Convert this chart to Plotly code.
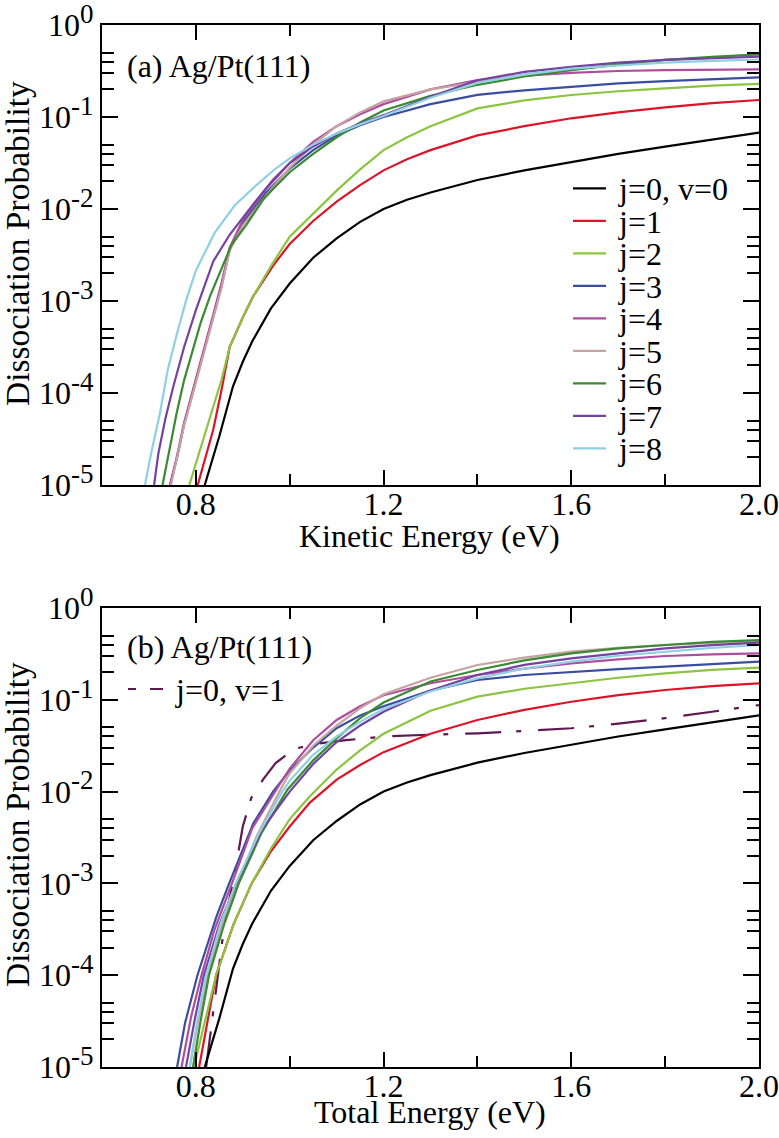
import numpy as np
import plotly.graph_objects as go

W, H = 779, 1138
FONT = "Liberation Serif"

# ---------------- data (energy in eV, values = log10 P) -------------
# panel (a): kinetic energy
ke_j0v0_E = [0.819, 0.85, 0.879, 0.90, 0.92, 0.96, 1.0, 1.05, 1.1, 1.15, 1.2, 1.25, 1.3, 1.4, 1.5, 1.6, 1.7, 1.8, 1.9, 2.0]
ke_j0v0_L = [-5.0, -4.47, -3.93, -3.66, -3.44, -3.08, -2.81, -2.53, -2.32, -2.14, -2.00, -1.90, -1.82, -1.685, -1.58, -1.486, -1.40, -1.322, -1.245, -1.17]

ke_j1_E = [0.804, 0.82, 0.837, 0.855, 0.872, 0.90, 0.922, 0.964, 1.0, 1.05, 1.1, 1.15, 1.2, 1.25, 1.3, 1.4, 1.5, 1.6, 1.7, 1.8, 1.9, 2.0]
ke_j1_L = [-5.0, -4.7, -4.40, -3.96, -3.50, -3.18, -2.95, -2.62, -2.38, -2.13, -1.92, -1.74, -1.58, -1.46, -1.36, -1.20, -1.10, -1.014, -0.95, -0.895, -0.85, -0.815]

ke_j2_E = [0.786, 0.81, 0.83, 0.855, 0.872, 0.90, 0.922, 0.96, 1.0, 1.05, 1.1, 1.15, 1.2, 1.25, 1.3, 1.4, 1.5, 1.6, 1.7, 1.8, 1.9, 2.0]
ke_j2_L = [-5.0, -4.6, -4.26, -3.85, -3.50, -3.18, -2.95, -2.62, -2.30, -2.05, -1.80, -1.57, -1.36, -1.22, -1.10, -0.906, -0.82, -0.761, -0.72, -0.688, -0.66, -0.641]

ke_j3_E = [0.745, 0.76, 0.775, 0.795, 0.815, 0.837, 0.855, 0.872, 0.90, 0.95, 1.0, 1.05, 1.1, 1.15, 1.2, 1.3, 1.4, 1.5, 1.6, 1.7, 1.8, 1.9, 2.0]
ke_j3_L = [-5.0, -4.70, -4.34, -3.97, -3.58, -3.18, -2.83, -2.44, -2.15, -1.82, -1.56, -1.36, -1.20, -1.09, -1.00, -0.86, -0.76, -0.71, -0.67, -0.635, -0.609, -0.585, -0.569]

ke_j4_E = [0.745, 0.76, 0.775, 0.795, 0.815, 0.837, 0.855, 0.872, 0.90, 0.95, 1.0, 1.05, 1.1, 1.15, 1.2, 1.3, 1.4, 1.5, 1.6, 1.7, 1.8, 1.9, 2.0]
ke_j4_L = [-5.0, -4.68, -4.32, -3.95, -3.55, -3.15, -2.80, -2.42, -2.12, -1.78, -1.50, -1.27, -1.10, -0.97, -0.86, -0.70, -0.60, -0.55, -0.52, -0.50, -0.49, -0.485, -0.482]

ke_j5_E = [0.747, 0.759, 0.775, 0.794, 0.815, 0.837, 0.855, 0.872, 0.90, 0.95, 1.0, 1.05, 1.1, 1.15, 1.2, 1.3, 1.4, 1.5, 1.6, 1.7, 1.8, 1.9, 2.0]
ke_j5_L = [-5.0, -4.73, -4.35, -4.0, -3.60, -3.21, -2.85, -2.45, -2.18, -1.85, -1.55, -1.30, -1.10, -0.95, -0.83, -0.70, -0.616, -0.54, -0.482, -0.43, -0.38, -0.355, -0.335]

ke_j6_E = [0.729, 0.744, 0.759, 0.775, 0.794, 0.81, 0.83, 0.855, 0.876, 0.908, 0.943, 0.965, 1.0, 1.05, 1.1, 1.15, 1.2, 1.3, 1.4, 1.5, 1.6, 1.7, 1.8, 1.9, 2.0]
ke_j6_L = [-5.0, -4.6, -4.22, -3.86, -3.53, -3.24, -2.95, -2.65, -2.39, -2.17, -1.90, -1.78, -1.60, -1.40, -1.22, -1.06, -0.93, -0.77, -0.65, -0.56, -0.49, -0.43, -0.38, -0.345, -0.32]

ke_j7_E = [0.711, 0.72, 0.735, 0.752, 0.775, 0.80, 0.837, 0.872, 0.922, 0.965, 1.0, 1.05, 1.1, 1.15, 1.2, 1.3, 1.4, 1.5, 1.6, 1.7, 1.8, 1.9, 2.0]
ke_j7_L = [-5.0, -4.66, -4.28, -3.93, -3.50, -3.10, -2.57, -2.28, -1.95, -1.68, -1.50, -1.32, -1.18, -1.07, -0.98, -0.78, -0.60, -0.51, -0.455, -0.41, -0.38, -0.36, -0.345]

ke_j8_E = [0.6915, 0.705, 0.7234, 0.74, 0.76, 0.78, 0.80, 0.84, 0.883, 0.929, 0.97, 1.0, 1.05, 1.1, 1.15, 1.2, 1.3, 1.4, 1.5, 1.6, 1.7, 1.8, 1.9, 2.0]
ke_j8_L = [-5.0, -4.65, -4.22, -3.75, -3.35, -2.98, -2.67, -2.26, -1.96, -1.74, -1.56, -1.45, -1.30, -1.18, -1.08, -0.99, -0.79, -0.63, -0.54, -0.475, -0.44, -0.41, -0.39, -0.375]

# panel (b): total energy
te_j0v0_E = ke_j0v0_E
te_j0v0_L = ke_j0v0_L

te_j1_E = [0.807, 0.825, 0.843, 0.88, 0.919, 0.96, 1.0, 1.043, 1.1, 1.15, 1.2, 1.3, 1.4, 1.5, 1.6, 1.7, 1.8, 1.9, 2.0]
te_j1_L = [-5.0, -4.48, -4.0, -3.45, -3.0, -2.65, -2.38, -2.12, -1.87, -1.71, -1.57, -1.37, -1.22, -1.11, -1.021, -0.95, -0.893, -0.85, -0.82]

te_j2_E = [0.796, 0.82, 0.843, 0.88, 0.919, 0.96, 1.0, 1.043, 1.1, 1.15, 1.2, 1.3, 1.4, 1.5, 1.6, 1.7, 1.8, 1.9, 2.0]
te_j2_L = [-5.0, -4.48, -4.0, -3.45, -3.0, -2.62, -2.30, -2.05, -1.76, -1.55, -1.37, -1.12, -0.966, -0.88, -0.82, -0.76, -0.712, -0.675, -0.65]

te_j3_E = [0.760, 0.777, 0.8034, 0.825, 0.844, 0.871, 0.90, 0.922, 0.9645, 1.0, 1.05, 1.1, 1.15, 1.2, 1.3, 1.4, 1.5, 1.6, 1.7, 1.8, 1.9, 2.0]
te_j3_L = [-5.0, -4.52, -4.0, -3.65, -3.36, -3.0, -2.62, -2.35, -2.0, -1.77, -1.52, -1.31, -1.17, -1.07, -0.90, -0.784, -0.73, -0.694, -0.665, -0.639, -0.61, -0.585]

te_j4_E = [0.7695, 0.79, 0.812, 0.84, 0.877, 0.92, 0.975, 1.0, 1.05, 1.1, 1.15, 1.2, 1.3, 1.4, 1.5, 1.6, 1.7, 1.8, 1.9, 2.0]
te_j4_L = [-5.0, -4.45, -4.0, -3.50, -3.0, -2.40, -1.95, -1.75, -1.44, -1.22, -1.07, -0.95, -0.82, -0.73, -0.66, -0.603, -0.56, -0.523, -0.505, -0.494]

te_j5_E = [0.787, 0.805, 0.826, 0.855, 0.889, 0.93, 0.98, 1.0, 1.05, 1.1, 1.15, 1.2, 1.3, 1.4, 1.5, 1.6, 1.7, 1.8, 1.9, 2.0]
te_j5_L = [-5.0, -4.5, -4.0, -3.45, -3.0, -2.48, -1.98, -1.80, -1.50, -1.28, -1.09, -0.94, -0.76, -0.621, -0.54, -0.476, -0.435, -0.403, -0.38, -0.367]

te_j6_E = [0.794, 0.81, 0.828, 0.86, 0.8915, 0.94, 0.995, 1.05, 1.1, 1.15, 1.2, 1.3, 1.4, 1.5, 1.6, 1.7, 1.8, 1.9, 2.0]
te_j6_L = [-5.0, -4.5, -4.0, -3.45, -3.0, -2.45, -1.98, -1.66, -1.42, -1.20, -1.03, -0.80, -0.675, -0.57, -0.494, -0.44, -0.403, -0.37, -0.349]

te_j7_E = [0.779, 0.797, 0.817, 0.85, 0.886, 0.94, 1.0, 1.05, 1.1, 1.15, 1.2, 1.3, 1.4, 1.5, 1.6, 1.7, 1.8, 1.9, 2.0]
te_j7_L = [-5.0, -4.5, -4.0, -3.45, -3.0, -2.42, -2.0, -1.70, -1.46, -1.28, -1.13, -0.90, -0.73, -0.62, -0.548, -0.49, -0.439, -0.405, -0.378]

te_j8_E = [0.787, 0.803, 0.822, 0.852, 0.885, 0.935, 0.984, 1.0, 1.05, 1.1, 1.15, 1.2, 1.3, 1.4, 1.5, 1.6, 1.7, 1.8, 1.9, 2.0]
te_j8_L = [-5.0, -4.5, -4.0, -3.45, -3.0, -2.45, -2.0, -1.88, -1.60, -1.40, -1.24, -1.10, -0.91, -0.766, -0.66, -0.585, -0.52, -0.476, -0.435, -0.403]

te_j0v1_E = [0.822, 0.837, 0.85, 0.862, 0.883, 0.90, 0.918, 0.943, 0.97, 0.993, 1.014, 1.056, 1.12, 1.2, 1.3, 1.4, 1.5, 1.6, 1.7, 1.8, 1.9, 2.0]
te_j0v1_L = [-5.0, -4.41, -3.90, -3.40, -2.89, -2.38, -2.07, -1.87, -1.69, -1.60, -1.53, -1.48, -1.44, -1.40, -1.38, -1.365, -1.34, -1.31, -1.26, -1.20, -1.13, -1.057]

legend_labels = ["j=0, v=0", "j=1", "j=2", "j=3", "j=4", "j=5", "j=6", "j=7", "j=8"]
colors = ["#000000", "#dc1428", "#8cc43f", "#3b4da0", "#b04c9f", "#c6a2a2", "#3a8a32", "#7442a0", "#8fd0e2"]
v1_label = "j=0, v=1"
v1_color = "#5e1a50"

x_major = [0.8, 1.2, 1.6, 2.0]
x_major_text = ["0.8", "1.2", "1.6", "2.0"]
x_minor = [1.0, 1.4, 1.8]
y_major = [1e-5, 1e-4, 1e-3, 1e-2, 1e-1, 1]
y_major_exp = ["-5", "-4", "-3", "-2", "-1", "0"]
y_minor = [m * 10.0 ** d for d in range(-5, 0) for m in (2, 3, 4, 5)]

panel_labels = ["(a) Ag/Pt(111)", "(b) Ag/Pt(111)"]
x_titles = ["Kinetic Energy (eV)", "Total Energy (eV)"]
y_title = "Dissociation Probability"

top_sets = [(ke_j0v0_E, ke_j0v0_L), (ke_j1_E, ke_j1_L), (ke_j2_E, ke_j2_L), (ke_j3_E, ke_j3_L),
            (ke_j4_E, ke_j4_L), (ke_j5_E, ke_j5_L), (ke_j6_E, ke_j6_L), (ke_j7_E, ke_j7_L), (ke_j8_E, ke_j8_L)]
bot_sets = [(te_j0v0_E, te_j0v0_L), (te_j1_E, te_j1_L), (te_j2_E, te_j2_L), (te_j3_E, te_j3_L),
            (te_j4_E, te_j4_L), (te_j5_E, te_j5_L), (te_j6_E, te_j6_L), (te_j7_E, te_j7_L), (te_j8_E, te_j8_L)]

# ---------------- figure -------------
def px(p):
    return p / W


def py(p):
    return 1 - p / H


X0, X1 = 102, 759
TOP = (25, 485)
BOT = (608, 1067)

fig = go.Figure()
LW = 2.2
for (E, L), c, n in zip(top_sets, colors, legend_labels):
    fig.add_trace(go.Scatter(x=E, y=np.power(10.0, L), mode="lines", name=n,
                             line=dict(color=c, width=LW), xaxis="x", yaxis="y", showlegend=False))
fig.add_trace(go.Scatter(x=te_j0v1_E, y=np.power(10.0, te_j0v1_L), mode="lines", name=v1_label,
                         line=dict(color=v1_color, width=LW, dash="36px,15px,5px,17px"),
                         xaxis="x2", yaxis="y2", showlegend=False))
for (E, L), c, n in zip(bot_sets, colors, legend_labels):
    fig.add_trace(go.Scatter(x=E, y=np.power(10.0, L), mode="lines", name=n,
                             line=dict(color=c, width=LW), xaxis="x2", yaxis="y2", showlegend=False))

tickfont = dict(family=FONT, size=32, color="black")
y_text = ["10<sup><span style='font-size:27px'>%s</span></sup>" % e for e in y_major_exp]


def xax(anchor):
    return dict(domain=[px(X0), px(X1)], anchor=anchor, range=[0.6, 2.0], automargin=False,
                tickmode="array", tickvals=x_major, ticktext=x_major_text,
                ticks="inside", ticklen=15, tickwidth=2, tickcolor="black",
                ticklabeloverflow="allow", ticklabelstandoff=-10,
                showline=True, linewidth=2, linecolor="black", mirror="allticks",
                showgrid=False, zeroline=False, tickfont=tickfont,
                minor=dict(tickmode="array", tickvals=x_minor, ticks="inside", ticklen=11,
                           tickwidth=2, tickcolor="black", showgrid=False))


def yax(anchor, dom):
    return dict(domain=[py(dom[1]), py(dom[0])], anchor=anchor, type="log", range=[-5, 0],
                automargin=False, ticklabeloverflow="allow",
                tickmode="array", tickvals=y_major, ticktext=y_text,
                ticks="inside", ticklen=16, tickwidth=2, tickcolor="black",
                showline=True, linewidth=2, linecolor="black", mirror="allticks",
                showgrid=False, zeroline=False, tickfont=tickfont,
                minor=dict(tickmode="array", tickvals=y_minor, ticks="inside", ticklen=12,
                           tickwidth=2, tickcolor="black", showgrid=False))


annotations = []
shapes = []
afont = dict(family=FONT, size=32, color="black")
yfont = dict(family=FONT, size=33.5, color="black")

# axis titles
annotations.append(dict(text=x_titles[0], x=px(430), y=py(536), xref="paper", yref="paper",
                        xanchor="center", yanchor="middle", showarrow=False, font=afont))
annotations.append(dict(text=x_titles[1], x=px(430), y=py(1112), xref="paper", yref="paper",
                        xanchor="center", yanchor="middle", showarrow=False, font=afont))
for yc in (244, 825):
    annotations.append(dict(text=y_title, x=px(17), y=py(yc), xref="paper", yref="paper",
                            xanchor="center", yanchor="middle", textangle=-90, showarrow=False, font=yfont))

# panel labels
annotations.append(dict(text=panel_labels[0], x=px(125), y=py(66), xref="paper", yref="paper",
                        xanchor="left", yanchor="middle", showarrow=False, font=afont))
annotations.append(dict(text=panel_labels[1], x=px(125), y=py(647), xref="paper", yref="paper",
                        xanchor="left", yanchor="middle", showarrow=False, font=afont))

# legend of panel (a)
for i, (n, c) in enumerate(zip(legend_labels, colors)):
    yy = 188.3 + 32.5 * i
    shapes.append(dict(type="line", xref="paper", yref="paper", x0=px(573), x1=px(606),
                       y0=py(yy), y1=py(yy), line=dict(color=c, width=2.2)))
    annotations.append(dict(text=n, x=px(616), y=py(yy + 1), xref="paper", yref="paper",
                            xanchor="left", yanchor="middle", showarrow=False, font=afont))

# legend of panel (b)
shapes.append(dict(type="line", xref="paper", yref="paper", x0=px(128), x1=px(163),
                   y0=py(689), y1=py(689), line=dict(color=v1_color, width=2.2, dash="8px,14px,13px,40px")))
annotations.append(dict(text=v1_label, x=px(173), y=py(690), xref="paper", yref="paper",
                        xanchor="left", yanchor="middle", showarrow=False, font=afont))

fig.update_layout(
    template="none",
    width=W, height=H, margin=dict(l=0, r=0, t=0, b=0, autoexpand=False),
    paper_bgcolor="white", plot_bgcolor="white", showlegend=False,
    xaxis=xax("y"), yaxis=yax("x", TOP),
    xaxis2=xax("y2"), yaxis2=yax("x2", BOT),
    annotations=annotations, shapes=shapes,
    font=dict(family=FONT, color="black"),
)

fig.write_html("out.html")
